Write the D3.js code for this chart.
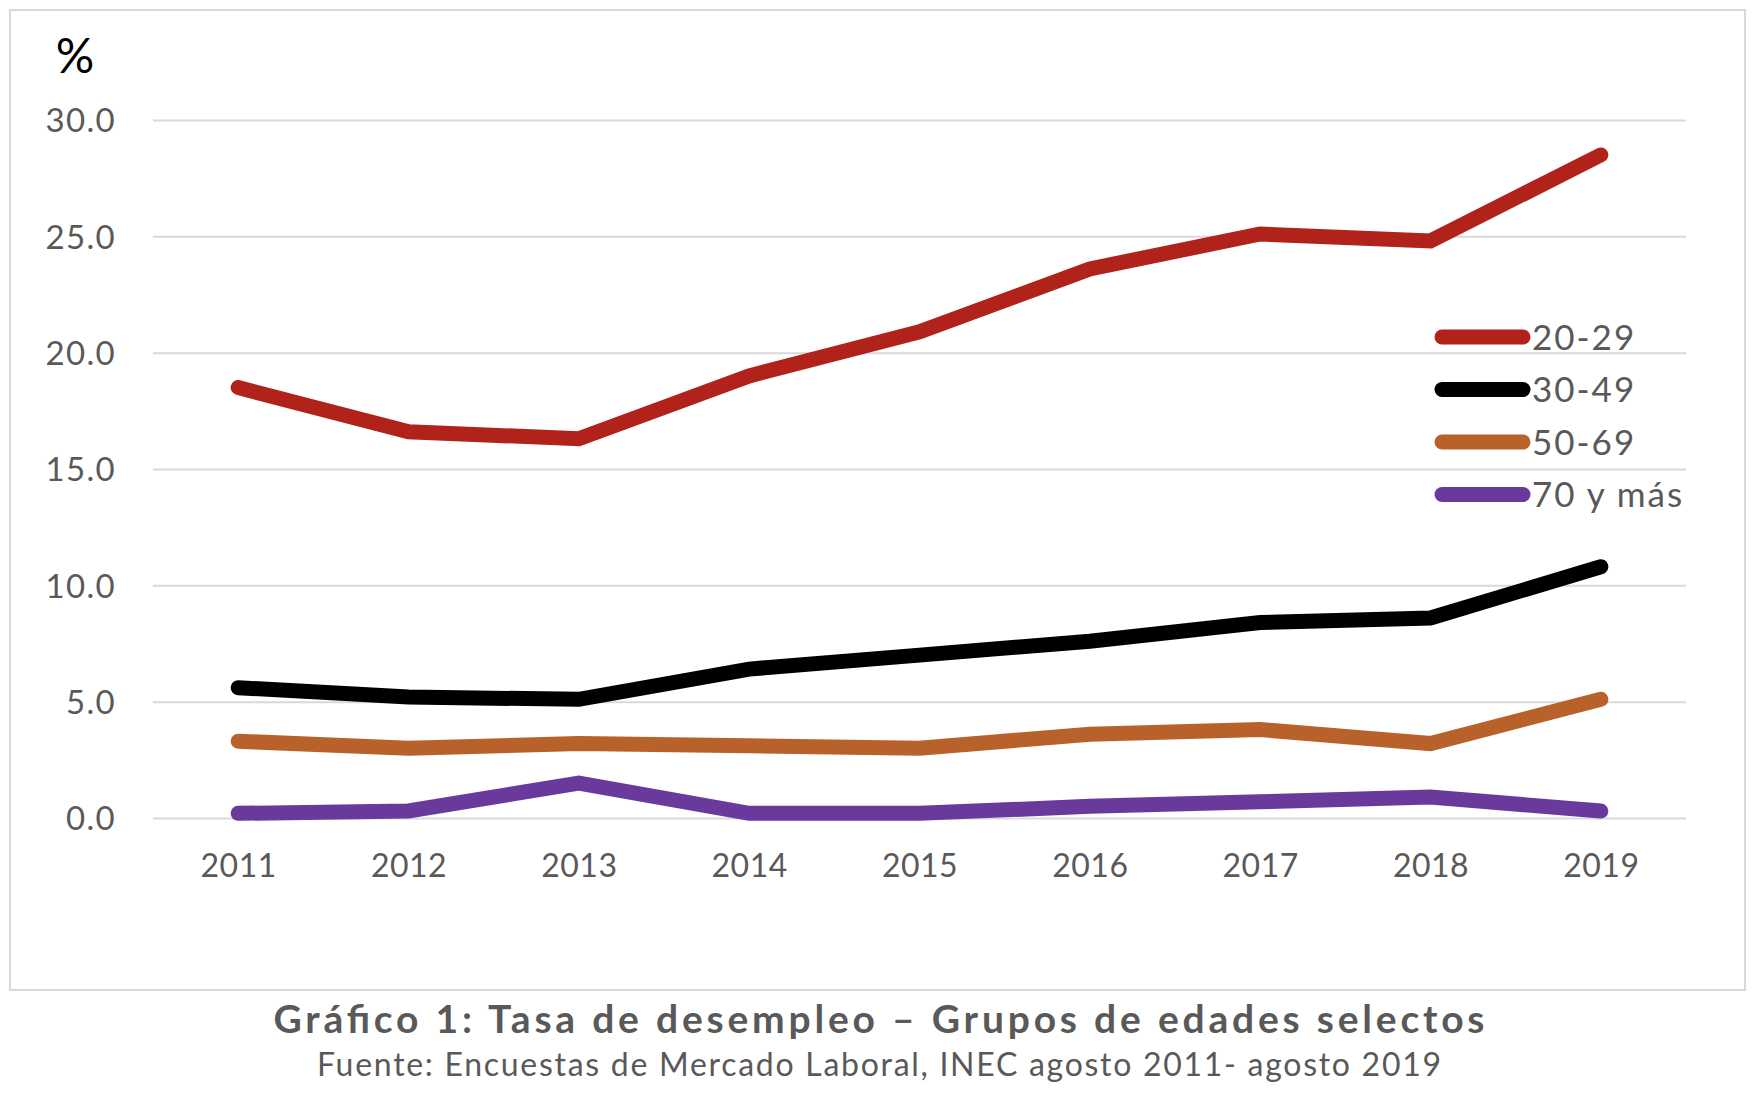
<!DOCTYPE html>
<html>
<head>
<meta charset="utf-8">
<script src="https://cdn.jsdelivr.net/npm/d3@7"></script>
<style>
  body { margin: 0; background: #fff; }
  text { font-family: Lato, "Open Sans", sans-serif; }
</style>
</head>
<body>
<div id="chart"></div>
<script>
// years on the x axis
const years = ["2011", "2012", "2013", "2014", "2015", "2016", "2017", "2018", "2019"];

// unemployment rate (%) by age group
const age20to29 = [18.5, 16.6, 16.3, 19.0, 20.9, 23.6, 25.1, 24.8, 28.5];
const age30to49 = [5.6, 5.2, 5.1, 6.4, 7.0, 7.6, 8.4, 8.6, 10.8];
const age50to69 = [3.3, 3.0, 3.2, 3.1, 3.0, 3.6, 3.8, 3.2, 5.1];
const age70plus = [0.2, 0.3, 1.5, 0.2, 0.2, 0.5, 0.7, 0.9, 0.3];

const seriesNames = ["20-29", "30-49", "50-69", "70 y más"];
const yTicks = [0, 5, 10, 15, 20, 25, 30];

const title = "Gráfico 1: Tasa de desempleo – Grupos de edades selectos";
const source = "Fuente: Encuestas de Mercado Laboral, INEC agosto 2011- agosto 2019";

const series = [age20to29, age30to49, age50to69, age70plus].map((values, i) => ({
  name: seriesNames[i],
  values: values,
}));

const W = 1756, H = 1096;
const colors = d3.scaleOrdinal()
  .domain(seriesNames)
  .range(["#b0221a", "#000000", "#b8612a", "#69399b"]);

const svg = d3.select("#chart")
  .append("svg")
  .attr("width", W)
  .attr("height", H);

// outer frame
svg.append("rect")
  .attr("x", 10).attr("y", 10)
  .attr("width", 1735).attr("height", 980)
  .attr("fill", "none")
  .attr("stroke", "#d9d9d9")
  .attr("stroke-width", 2);

const plotLeft = 153, plotRight = 1686, plotTop = 120, plotBottom = 818;

const x = d3.scalePoint()
  .domain(years)
  .range([plotLeft, plotRight])
  .padding(0.5);

const y = d3.scaleLinear()
  .domain([0, 30])
  .range([plotBottom, plotTop]);

// y axis with gridlines
const yAxis = svg.append("g")
  .attr("transform", `translate(${plotLeft},0)`)
  .call(d3.axisLeft(y)
    .tickValues(yTicks)
    .tickSize(-(plotRight - plotLeft))
    .tickPadding(37)
    .tickFormat(d3.format(".1f")));
yAxis.select(".domain").remove();
yAxis.selectAll(".tick line").attr("stroke", "#d9d9d9").attr("stroke-width", 2);
yAxis.selectAll(".tick text")
  .attr("fill", "#595959")
  .attr("font-size", 33)
  .attr("letter-spacing", 1.3)
  .attr("dy", "0.36em");

// x axis labels
const xAxis = svg.append("g")
  .attr("transform", `translate(0,${plotBottom})`)
  .call(d3.axisBottom(x).tickSize(0).tickPadding(36));
xAxis.select(".domain").remove();
xAxis.selectAll(".tick text")
  .attr("fill", "#595959")
  .attr("font-size", 32)
  .attr("letter-spacing", 0.5);

// unit label
svg.append("text")
  .attr("x", 75)
  .attr("y", 73)
  .attr("text-anchor", "middle")
  .attr("font-size", 48)
  .attr("fill", "#000")
  .text("%");

// lines
const line = d3.line()
  .x((d, i) => x(years[i]))
  .y((d) => y(d));

svg.append("g")
  .selectAll("path")
  .data(series)
  .enter()
  .append("path")
  .attr("d", (d) => line(d.values))
  .attr("fill", "none")
  .attr("stroke", (d) => colors(d.name))
  .attr("stroke-width", 15)
  .attr("stroke-linecap", "round")
  .attr("stroke-linejoin", "miter");

// legend
const legend = svg.append("g")
  .selectAll("g")
  .data(series)
  .enter()
  .append("g")
  .attr("transform", (d, i) => `translate(1442,${337 + i * 52.5})`);

legend.append("line")
  .attr("x1", 0).attr("x2", 81)
  .attr("stroke", (d) => colors(d.name))
  .attr("stroke-width", 15)
  .attr("stroke-linecap", "round");

legend.append("text")
  .attr("x", 90)
  .attr("dy", "0.36em")
  .attr("font-size", 35)
  .attr("letter-spacing", 2)
  .attr("fill", "#595959")
  .text((d) => d.name);

// caption
svg.append("text")
  .attr("x", 879)
  .attr("y", 1033)
  .attr("text-anchor", "middle")
  .attr("font-size", 39)
  .attr("font-weight", "bold")
  .attr("fill", "#595959")
  .attr("textLength", 1211)
  .attr("lengthAdjust", "spacing")
  .text(title);

svg.append("text")
  .attr("x", 879)
  .attr("y", 1076)
  .attr("text-anchor", "middle")
  .attr("font-size", 32)
  .attr("fill", "#595959")
  .attr("textLength", 1124)
  .attr("lengthAdjust", "spacing")
  .text(source);
</script>
</body>
</html>
